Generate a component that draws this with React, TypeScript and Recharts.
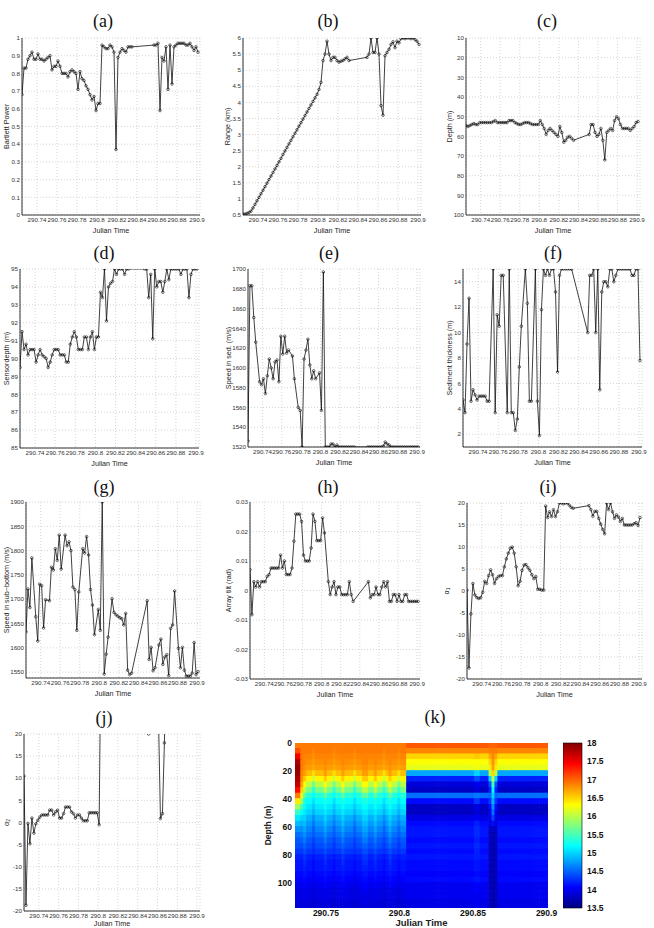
import React from 'react';
import { LineChart, Line, BarChart, Bar, Cell, XAxis, YAxis, CartesianGrid } from 'recharts';

// Julian day of each estimate (shared by panels a-j)
const julianTime = [
  290.725, 290.727, 290.729, 290.731, 290.733, 290.735, 290.737, 290.739, 290.741, 290.743,
  290.745, 290.747, 290.749, 290.751, 290.753, 290.755, 290.757, 290.759, 290.761, 290.763,
  290.765, 290.767, 290.769, 290.771, 290.773, 290.775, 290.777, 290.779, 290.781, 290.783,
  290.785, 290.787, 290.789, 290.791, 290.793, 290.795, 290.797, 290.799, 290.801, 290.803,
  290.805, 290.807, 290.809, 290.811, 290.813, 290.815, 290.817, 290.819, 290.821, 290.823,
  290.825, 290.827, 290.829, 290.831, 290.833, 290.835,
  290.849, 290.851, 290.853, 290.855, 290.857, 290.859, 290.861, 290.863, 290.865, 290.867,
  290.869, 290.871, 290.873, 290.875, 290.877, 290.879, 290.881, 290.883, 290.885, 290.887,
  290.889, 290.891, 290.893, 290.895, 290.897, 290.899, 290.901,
];

const bartlettPower = [
  0.68, 0.83, 0.83, 0.88, 0.90, 0.92, 0.88, 0.88, 0.91, 0.88,
  0.88, 0.87, 0.88, 0.89, 0.90, 0.82, 0.84, 0.84, 0.87, 0.84,
  0.80, 0.80, 0.80, 0.78, 0.81, 0.82, 0.81, 0.80, 0.71, 0.81,
  0.77, 0.76, 0.73, 0.71, 0.68, 0.65, 0.67, 0.59, 0.63, 0.63,
  0.96, 0.95, 0.94, 0.94, 0.96, 0.95, 0.92, 0.37, 0.89, 0.92,
  0.94, 0.93, 0.92, 0.95, 0.95, 0.95,
  null, null, null, null, 0.96, 0.96, 0.97, 0.59, 0.89, 0.87,
  0.95, 0.71, 0.96, 0.74, 0.95, 0.96, 0.97, 0.97, 0.97, 0.97,
  0.96, 0.96, 0.97, 0.95, 0.93, 0.95, 0.92,
];

const rangeKm = [
  0.52, 0.53, 0.55, 0.58, 0.62, 0.72, 0.83, 0.94, 1.05, 1.16,
  1.27, 1.38, 1.49, 1.6, 1.71, 1.82, 1.93, 2.04, 2.15, 2.26,
  2.38, 2.49, 2.6, 2.71, 2.82, 2.93, 3.04, 3.15, 3.26, 3.37,
  3.48, 3.59, 3.7, 3.81, 3.92, 4.03, 4.14, 4.25, 4.4, 4.62,
  5.3, 5.5, 5.9, 5.5, 5.3, 5.4, 5.4, 5.3, 5.25, 5.28,
  5.3, 5.35, 5.4, 5.3, null, null,
  5.4, 5.5, 6.0, 5.55, 5.55, 6.0, 5.5, 3.9, 3.6, 5.45,
  5.55, 5.65, 5.8, 5.88, 5.7, 5.9, 5.85, 5.98, 6.0, 5.98,
  6.0, 6.0, 5.98, 6.0, 5.95, 5.9, 5.8,
];

const sourceDepth = [
  54.5, 55, 54.5, 54, 53.5, 54, 54, 53, 53, 53,
  53, 53, 53, 53, 52.5, 52, 53, 53, 53, 53,
  53, 53, 52, 52, 52, 53, 53.5, 54, 54, 53.5,
  53, 53, 53, 53.5, 54, 54, 54, 54, 52, 54,
  56, 59, 57, 56, 57, 58, 59, 60, 55, 58,
  63, 62, 60.5, 60, 61, 62,
  null, 59, 54, 54, 58, 60, 59, 56, 62, 72,
  58, 57, 56, 57, 52, 50, 51, 54, 56, 56,
  56, 56, 57, 56, 55, 53, 52.5,
];

const sensorDepth = [
  89.5, 91.5, 90.5, 90.8, 90.2, 90.5, 90.5, 90.5, 89.8, 90.2,
  90.5, 90.2, 90.1, 90, 89.5, 89.8, 90.2, 90.5, 90.5, 90.5,
  90.2, 90.2, 90.2, 89.8, 89.8, 90.8, 91.2, 91.5, 91.2, 90.5,
  90.5, 90.5, 91.2, 91.2, 90.5, 91.2, 91.5, 90.5, 91.2, 91.2,
  93.7, 93.4, 95, 92.1, 94, 94.2, 94.3, 95, 94.7, 95,
  95, 95, 94.7, 95, 95, null,
  95, 95, 93.4, 94.7, 91.1, 95, 94, 94.3, 94.3, 93.7,
  94.3, 95, 94.4, 95, 95, 95, 95, 95, 94.7, 95,
  95, 95, 93.4, 94.7, 95, 95, 95,
];

const sedimentSpeed = [
  1526, 1683, 1683, 1651, 1626, null, 1586, 1583, 1589, 1574,
  1592, 1609, 1600, 1589, 1606, 1608, 1586, 1632, 1614, 1632,
  1615, 1618, null, 1612, 1589, null, 1560, 1557, 1520, 1609,
  1618, 1629, 1603, 1589, 1597, 1589, null, 1595, 1557, 1697,
  1520, 1520, 1520, 1523, 1523, 1520, 1522, 1520, 1520, 1520,
  1520, 1520, 1520, 1520, 1520, 1520,
  1520, 1520, 1520, 1520, 1520, 1520, 1520, 1520, 1521, 1525,
  1523, 1522, 1520, 1520, 1520, 1520, 1520, 1520, 1520, 1520,
  1520, 1520, 1520, 1520, 1520, 1520, 1520,
];

const sedimentThickness = [
  4.7, 3.7, 9.1, 12.7, 4.6, 5.5, 5.1, 4.7, 5.0, 5.0,
  5.0, 5.0, 4.6, 4.6, null, 15, 3.7, 11.4, 10.5, 14.5,
  14.5, null, 3.7, 15, 3.7, 3.7, 2.3, 3.2, 7.3, 10.5,
  null, 15, 12.3, 4.6, 4.6, null, 15, 4.6, 1.9, 11.8,
  15, 14.5, 15, 14.5, 15, 15, 13.2, 6.9, 14.5, 15,
  15, 15, 15, 15, 15, null,
  10, 14.5, 14.5, 15, 10, 15, 5.5, 13.2, 14, 14,
  13.6, 15, 15, 14, 14.5, 15, 15, 15, 15, 15,
  15, 15, 14.5, 14.5, 15, 15, 7.8,
];

const subBottomSpeed = [
  1633, 1721, 1683, 1785, null, 1664, 1614, 1731, 1728, 1641,
  1699, null, 1697, 1766, 1760, 1804, 1780, 1832, 1762, null,
  1832, 1810, 1818, 1800, 1725, 1720, 1636, 1715, null, 1804,
  1795, 1829, 1791, 1720, 1688, 1627, null, 1679, 1636, 1900,
  1546, 1587, 1622, null, 1701, 1673, 1668, 1665, 1662, 1660,
  1647, 1671, 1554, 1545, 1548, null,
  1697, 1576, 1601, 1553, 1559, null, 1606, 1618, 1566, 1581,
  1586, 1543, 1640, 1647, 1717, null, 1599, 1559, 1601, 1554,
  1542, 1542, 1542, 1548, 1611, 1545, 1551,
];

const arrayTilt = [
  0.0071, -0.0082, 0.003, 0.0012, 0.003, 0.0012, 0.003, 0.003, 0.003, 0.0048,
  0.0054, 0.0076, 0.0076, 0.0076, 0.0076, 0.0076, 0.012, 0.0076, 0.010, 0.0054,
  0.0054, 0.0054, 0.0076, 0.0167, 0.0259, 0.0259, 0.0259, 0.0234, 0.012, 0.010,
  0.010, 0.010, 0.0144, 0.0259, 0.0234, 0.0169, 0.0169, 0.0169, 0.0246, 0.0195,
  null, 0.003, -0.0014, 0.0012, 0.003, -0.0014, 0.0012, 0.0012, -0.0014, -0.0014,
  -0.0014, -0.0014, 0.003, -0.0014, -0.0037, null,
  0.003, -0.0025, -0.0014, -0.0014, 0.0012, -0.0014, -0.0014, 0.0012, 0.003, 0.0012,
  0.003, -0.0037, -0.0037, -0.0014, -0.0014, -0.0037, -0.0014, -0.0037, -0.0037, -0.0014,
  -0.0014, -0.0037, -0.0037, -0.0037, -0.0037, -0.0037, -0.0037,
];

const alpha1 = [
  0.2, -17.5, -5.2, 1.7, -0.9, -1.5, -1.7, -1.5, -0.3, 2.2,
  1.7, 3.5, 4.8, 3.7, 1.7, 2.8, 3.3, 3.5, 3.5, 5.5,
  7.3, 8.6, 9.7, 10, 8.6, 5.5, 1.2, 2.2, 4.7, 5.9,
  6, 5.3, 4.7, 3.7, 2.8, 3.3, 0.4, 0.4, 0.2, 0.2,
  19.3, 16.7, 18, 16.9, 18.5, 16.9, 18, 20, 20, 19.8,
  20, 20, 19.5, 19, 18.8, null,
  19.4, 18.5, 17, 18.1, 18.1, 16.5, 15.2, 14, 13, 20,
  18.5, 20, 18, 16.5, 17.3, 16.8, 15.8, 16.5, 15, 15,
  15, 15, 15, 15.3, 15.5, 14.9, 16.7,
];

// values above 20 leave the plotted range and are clipped
const alpha2 = [
  10.5, -18.7, -0.2, -4.8, 1.0, -2.4, -0.3, 0.5, 1.2, 1.7,
  1.7, 1.7, 1.7, 2.8, 2.8, 1.7, 2.4, 2.8, 1.0, 1.0,
  2.0, 3.5, 3.5, 3.5, 2.4, 2.0, 1.0, 1.7, 1.7, 1.0,
  0.4, 0.4, 0.4, 2.2, 2.2, 2.2, 2.2, 2.2, -0.5, 45,
  null, null, null, null, null, null, null, null, null, null,
  null, null, null, null, null, null,
  null, 20, null, null, null, null, 24, 0.9, 2.0, 18,
  40, null, null, null, null, null, null, null, null, null,
  null, null, null, null, null, null, null,
];

const timeTicks = [290.74, 290.76, 290.78, 290.8, 290.82, 290.84, 290.86, 290.88, 290.9];
const powerTicks = [0, 0.1, 0.2, 0.3, 0.4, 0.5, 0.6, 0.7, 0.8, 0.9, 1];
const rangeTicks = [0.5, 1, 1.5, 2, 2.5, 3, 3.5, 4, 4.5, 5, 5.5, 6];
const depthTicks = [10, 20, 30, 40, 50, 60, 70, 80, 90, 100];
const sensorTicks = [85, 86, 87, 88, 89, 90, 91, 92, 93, 94, 95];
const sedSpeedTicks = [1520, 1540, 1560, 1580, 1600, 1620, 1640, 1660, 1680, 1700];
const thicknessTicks = [2, 4, 6, 8, 10, 12, 14];
const subSpeedTicks = [1550, 1600, 1650, 1700, 1750, 1800, 1850, 1900];
const tiltTicks = [-0.03, -0.02, -0.01, 0, 0.01, 0.02, 0.03];
const alphaTicks = [-20, -15, -10, -5, 0, 5, 10, 15, 20];

// temperature section (k): column centre times, 4 m layers, one profile letter per column
const sectionTimes = [
  290.730, 290.732, 290.734, 290.736, 290.738, 290.740, 290.742, 290.744, 290.746, 290.748,
  290.750, 290.752, 290.754, 290.756, 290.758, 290.760, 290.762, 290.764, 290.766, 290.768,
  290.770, 290.772, 290.774, 290.776, 290.778, 290.780, 290.782, 290.784, 290.786, 290.788,
  290.790, 290.792, 290.794, 290.796, 290.798, 290.800, 290.802, 290.804, 290.806, 290.808,
  290.810, 290.812, 290.814, 290.816, 290.818, 290.820, 290.822, 290.824, 290.826, 290.828,
  290.830, 290.832, 290.834, 290.836, 290.838, 290.840, 290.842, 290.844, 290.846, 290.848,
  290.850, 290.852, 290.854, 290.856, 290.858, 290.860, 290.862, 290.864, 290.866, 290.868,
  290.870, 290.872, 290.874, 290.876, 290.878, 290.880, 290.882, 290.884, 290.886, 290.888,
  290.890, 290.892, 290.894, 290.896, 290.898, 290.900,
];
const sectionColumns =
  'SSTFEEGEEE' + 'FEEGEEFEEE' + 'GEEFFEEFEE' + 'GEFEEGEE' +
  'LLLLLLLLLLLLLLLLLLLLLLL' + 'MM' + 'LLL' + 'CDC' + 'LLLLLLLLLLLLLLLLL';
const sectionLayerEdges = [
  0, 4, 8, 12, 16, 20, 24, 28, 32, 36, 40, 44, 48, 52, 56, 60,
  64, 68, 72, 76, 80, 84, 88, 92, 96, 100, 104, 108, 112, 116, 120,
];
const sectionProfiles: Record<string, number[]> = {
  S: [16.9, 17.1, 17.5, 17.8, 17.9, 17.9, 17.8, 17.7, 17.4, 16.9, 16.4, 15.9, 15.4, 15.1, 14.9, 14.7, 14.55, 14.45, 14.4, 14.3, 14.2, 14.15, 14.15, 14.1, 14.05, 14.0, 13.95, 13.95, 13.9, 13.9],
  T: [16.9, 16.9, 16.9, 16.9, 16.9, 16.85, 16.8, 16.7, 16.5, 16.2, 15.9, 15.5, 15.2, 15.0, 14.85, 14.7, 14.6, 14.5, 14.4, 14.3, 14.2, 14.15, 14.15, 14.1, 14.05, 14.0, 13.95, 13.95, 13.9, 13.9],
  E: [16.9, 16.9, 16.85, 16.8, 16.75, 16.6, 16.35, 16.0, 15.7, 15.35, 15.2, 15.1, 15.0, 14.85, 14.75, 14.65, 14.55, 14.45, 14.4, 14.3, 14.2, 14.15, 14.15, 14.1, 14.05, 14.0, 13.95, 13.95, 13.9, 13.9],
  F: [16.9, 16.9, 16.85, 16.85, 16.8, 16.75, 16.55, 16.3, 16.0, 15.6, 15.3, 15.2, 15.1, 15.0, 14.9, 14.8, 14.7, 14.6, 14.5, 14.4, 14.3, 14.25, 14.2, 14.15, 14.1, 14.05, 14.0, 13.95, 13.95, 13.9],
  G: [16.9, 16.85, 16.8, 16.75, 16.7, 16.45, 16.1, 15.7, 15.4, 15.2, 15.05, 14.95, 14.85, 14.7, 14.6, 14.5, 14.45, 14.35, 14.3, 14.25, 14.15, 14.1, 14.1, 14.05, 14.0, 13.95, 13.9, 13.9, 13.85, 13.85],
  L: [17.05, 16.85, 16.5, 16.3, 16.2, 14.8, 14.2, 13.9, 13.8, 14.55, 14.1, 13.8, 13.8, 13.95, 14.1, 14.15, 14.15, 14.1, 14.15, 14.1, 14.15, 14.1, 14.1, 14.05, 14.1, 14.0, 14.0, 14.0, 13.95, 13.95],
  M: [17.05, 16.85, 16.55, 16.3, 16.25, 15.0, 14.4, 14.0, 13.9, 14.6, 14.3, 13.95, 13.9, 14.0, 14.2, 14.25, 14.25, 14.2, 14.25, 14.2, 14.2, 14.15, 14.15, 14.1, 14.15, 14.05, 14.05, 14.0, 14.0, 14.0],
  C: [17.0, 16.9, 16.7, 16.5, 16.4, 16.0, 15.0, 14.4, 14.2, 14.5, 14.3, 14.1, 14.0, 13.95, 13.9, 13.8, 13.75, 13.75, 13.75, 13.75, 13.75, 13.75, 13.75, 13.75, 13.75, 13.75, 13.75, 13.75, 13.75, 13.75],
  D: [17.0, 16.9, 16.85, 16.8, 16.75, 16.5, 16.0, 15.5, 15.2, 15.0, 14.85, 14.7, 14.55, 14.35, 14.1, 13.8, 13.7, 13.7, 13.7, 13.7, 13.7, 13.7, 13.7, 13.7, 13.7, 13.7, 13.7, 13.7, 13.7, 13.7],
};
const sectionTicks = [290.75, 290.8, 290.85, 290.9];
const sectionDepthTicks = [0, 20, 40, 60, 80, 100];
const colorbarTicks = [13.5, 14, 14.5, 15, 15.5, 16, 16.5, 17, 17.5, 18];

const TEMP_MIN = 13.5;
const TEMP_MAX = 18;

const sans = '"Liberation Sans", Arial, Helvetica, sans-serif';
const serif = '"Liberation Serif", "DejaVu Serif", serif';

const fmtTick = (v: number) => String(Number(v.toFixed(4)));

// matlab "jet" colormap
const jet = (temp: number) => {
  const v = Math.min(1, Math.max(0, (temp - TEMP_MIN) / (TEMP_MAX - TEMP_MIN)));
  const ch = (c: number) => Math.round(255 * Math.min(1, Math.max(0, 1.5 - Math.abs(4 * v - c))));
  return `rgb(${ch(3)},${ch(2)},${ch(1)})`;
};

const VerticalTitle = (props: any) => {
  const { px, py, caption, size = 7.2, weight = 'normal' } = props;
  return (
    <text x={px} y={py} transform={`rotate(-90 ${px} ${py})`} textAnchor="middle" dominantBaseline="central"
      fontSize={size} fontWeight={weight} fill="#222" fontFamily={sans}>
      {caption}
    </text>
  );
};

const HorizontalTitle = (props: any) => {
  const { px, py, caption, size = 7.2, weight = 'normal' } = props;
  return (
    <text x={px} y={py} textAnchor="middle" dominantBaseline="central" fontSize={size} fontWeight={weight}
      fill="#222" fontFamily={sans}>
      {caption}
    </text>
  );
};

type PanelSpec = {
  id: string;
  values: (number | null)[];
  domain: [number, number];
  ticks: number[];
  reversed?: boolean;
  ylabel: React.ReactNode;
  col: number;
  x: number;
  y: number;
  w: number;
  h: number;
  labelX: number;
  xlabelDy?: number;
  titleX: number;
  titleY: number;
};

const alphaLabel = (n: string) => (
  <>
    α<tspan dy={2} fontSize={5}>{n}</tspan>
  </>
);

const panels: PanelSpec[] = [
  { id: 'a', values: bartlettPower, domain: [0, 1], ticks: powerTicks, ylabel: 'Bartlett Power', col: 0, x: 22, y: 38, w: 178, h: 177, labelX: 6, titleX: 103, titleY: 21 },
  { id: 'b', values: rangeKm, domain: [0.5, 6], ticks: rangeTicks, ylabel: 'Range (km)', col: 218, x: 243, y: 38, w: 178, h: 177, labelX: 227, titleX: 328, titleY: 21 },
  { id: 'c', values: sourceDepth, domain: [10, 100], ticks: depthTicks, reversed: true, ylabel: 'Depth (m)', col: 436, x: 466, y: 38, w: 174, h: 177, labelX: 449, titleX: 547, titleY: 21 },
  { id: 'd', values: sensorDepth, domain: [85, 95], ticks: sensorTicks, ylabel: 'Sensordepth (m)', col: 0, x: 20, y: 269, w: 179, h: 179, labelX: 6, titleX: 104, titleY: 253 },
  { id: 'e', values: sedimentSpeed, domain: [1520, 1700], ticks: sedSpeedTicks, ylabel: 'Speed in sed. (m/s)', col: 218, x: 248, y: 269, w: 172, h: 178, labelX: 228, titleX: 329, titleY: 253 },
  { id: 'f', values: sedimentThickness, domain: [1, 15], ticks: thicknessTicks, ylabel: 'Sediment thickness (m)', col: 436, x: 463, y: 269, w: 179, h: 178, labelX: 449, titleX: 553, titleY: 253 },
  { id: 'g', values: subBottomSpeed, domain: [1538, 1900], ticks: subSpeedTicks, ylabel: 'Speed in sub\u2212bottom (m/s)', col: 0, x: 26, y: 502, w: 174, h: 176, labelX: 6, titleX: 104, titleY: 487 },
  { id: 'h', values: arrayTilt, domain: [-0.03, 0.03], ticks: tiltTicks, ylabel: 'Array tilt (rad)', col: 218, x: 250, y: 502, w: 170, h: 177, labelX: 228, titleX: 328, titleY: 487 },
  { id: 'i', values: alpha1, domain: [-20, 20], ticks: alphaTicks, ylabel: alphaLabel('1'), col: 436, x: 467, y: 503, w: 175, h: 176, labelX: 446, titleX: 548, titleY: 487 },
  { id: 'j', values: alpha2, domain: [-20, 20], ticks: alphaTicks, ylabel: alphaLabel('2'), col: 0, x: 24, y: 734, w: 176, h: 177, labelX: 6, xlabelDy: 12.5, titleX: 104, titleY: 718 },
];

const TIME_DOMAIN: [number, number] = [290.725, 290.903];
const tickStyle = { fontSize: 6.2, fill: '#333', fontFamily: sans };

const SeriesPanel = ({ spec }: { spec: PanelSpec }) => {
  const data = julianTime.map((t, i) => ({ t, v: spec.values[i] }));
  const axisW = spec.x - spec.col;
  const top = 4;
  const right = 12;
  return (
    <div style={{ position: 'absolute', left: spec.col, top: spec.y - top }}>
      <LineChart width={axisW + spec.w + right} height={top + spec.h + 30} data={data}
        margin={{ top, right, bottom: 0, left: 0 }}>
        <CartesianGrid stroke="#b8b8b8" strokeDasharray="1 2" strokeWidth={0.6} />
        <XAxis dataKey="t" type="number" domain={TIME_DOMAIN} allowDataOverflow ticks={timeTicks} interval={0}
          tickFormatter={fmtTick} tick={tickStyle} tickSize={0} tickMargin={3} height={30}
          axisLine={{ stroke: '#000', strokeWidth: 0.8 }}
          label={<HorizontalTitle px={axisW + spec.w / 2} py={top + spec.h + (spec.xlabelDy ?? 15)} caption="Julian Time" />} />
        <YAxis type="number" domain={spec.domain} allowDataOverflow reversed={spec.reversed} ticks={spec.ticks}
          interval={0} tickFormatter={fmtTick} tick={tickStyle} tickSize={0} tickMargin={2} width={axisW}
          axisLine={{ stroke: '#000', strokeWidth: 0.8 }}
          label={<VerticalTitle px={spec.labelX - spec.col} py={top + spec.h / 2} caption={spec.ylabel} />} />
        <XAxis xAxisId="top" orientation="top" type="number" domain={TIME_DOMAIN} allowDataOverflow height={0}
          tick={false} tickLine={false} axisLine={{ stroke: '#000', strokeWidth: 0.8 }} />
        <YAxis yAxisId="right" orientation="right" type="number" domain={spec.domain} allowDataOverflow width={0}
          tick={false} tickLine={false} axisLine={{ stroke: '#000', strokeWidth: 0.8 }} />
        <Line type="linear" dataKey="v" stroke="#111" strokeWidth={0.8} connectNulls
          dot={{ r: 1.3, stroke: '#111', strokeWidth: 0.6, fill: 'none' }} isAnimationActive={false} />
      </LineChart>
    </div>
  );
};

const TemperatureSection = () => {
  const layers = sectionLayerEdges.slice(0, -1).map((_, n) => n);
  const rows = sectionTimes.map((t, col) => {
    const row: Record<string, number | string> = { t, code: sectionColumns[col] };
    layers.forEach((n) => {
      row[`L${n}`] = sectionLayerEdges[n + 1] - sectionLayerEdges[n];
    });
    return row;
  });
  const plot = { x: 295, y: 743, w: 253, h: 165 };
  const left = 255;
  const pad = 6;
  const right = 14;
  const axisW = plot.x - left;
  const cellW = plot.w / sectionTimes.length + 0.6;
  const boldTick = { fontSize: 8.5, fill: '#111', fontFamily: sans, fontWeight: 'bold' };
  return (
    <div style={{ position: 'absolute', left, top: plot.y - pad }}>
      <BarChart width={axisW + plot.w + right} height={pad + plot.h + 24} data={rows}
        margin={{ top: pad, right, bottom: 0, left: 0 }}>
        <XAxis dataKey="t" type="number" domain={[290.729, 290.901]} allowDataOverflow ticks={sectionTicks}
          interval={0} tickFormatter={fmtTick} tick={boldTick} tickSize={0} tickMargin={2} height={24}
          axisLine={false}
          label={<HorizontalTitle px={axisW + plot.w / 2} py={pad + plot.h + 14} caption="Julian Time" size={9.5} weight="bold" />} />
        <YAxis type="number" domain={[0, 118]} reversed allowDataOverflow ticks={sectionDepthTicks} interval={0}
          tickFormatter={fmtTick} tick={boldTick} tickSize={0} tickMargin={3} width={axisW} axisLine={false}
          label={<VerticalTitle px={13} py={pad + plot.h / 2} caption="Depth (m)" size={8.5} weight="bold" />} />
        {layers.map((n) => (
          <Bar key={n} dataKey={`L${n}`} stackId="temp" barSize={cellW} isAnimationActive={false}>
            {rows.map((r, j) => {
              const c = jet(sectionProfiles[r.code as string][n]);
              return <Cell key={j} fill={c} stroke={c} strokeWidth={1.2} />;
            })}
          </Bar>
        ))}
      </BarChart>
    </div>
  );
};

const Colorbar = () => {
  const plot = { x: 563, y: 743, w: 19, h: 165 };
  const pad = 6;
  const stops = [0, 0.125, 0.375, 0.625, 0.875, 1];
  return (
    <div style={{ position: 'absolute', left: plot.x, top: plot.y - pad }}>
      <BarChart width={plot.w + 40} height={plot.h + 2 * pad} data={[{ name: 'temp', span: [TEMP_MIN, TEMP_MAX] }]}
        margin={{ top: pad, right: 0, bottom: pad, left: 0 }} barCategoryGap={0}>
        <defs>
          <linearGradient id="jetScale" x1="0" y1="1" x2="0" y2="0">
            {stops.map((s) => (
              <stop key={s} offset={s} stopColor={jet(TEMP_MIN + s * (TEMP_MAX - TEMP_MIN))} />
            ))}
          </linearGradient>
        </defs>
        <XAxis dataKey="name" hide />
        <YAxis orientation="right" type="number" domain={[TEMP_MIN, TEMP_MAX]} ticks={colorbarTicks} interval={0}
          tickFormatter={fmtTick} tick={{ fontSize: 8.5, fill: '#111', fontFamily: sans, fontWeight: 'bold' }}
          tickSize={0} tickMargin={5} width={40} axisLine={false} />
        <Bar dataKey="span" fill="url(#jetScale)" stroke="#000" strokeWidth={0.6} isAnimationActive={false} />
      </BarChart>
    </div>
  );
};

const Title = ({ text, x, y }: { text: string; x: number; y: number }) => (
  <div style={{
    position: 'absolute', left: x, top: y, transform: 'translate(-50%, -50%)',
    fontFamily: serif, fontSize: 18, lineHeight: 1, color: '#111', whiteSpace: 'nowrap',
  }}>
    {text}
  </div>
);

export default function App() {
  return (
    <div style={{ position: 'absolute', left: 0, top: 0, width: 654, height: 928, overflow: 'hidden', background: '#fff' }}>
      {panels.map((p) => (
        <React.Fragment key={p.id}>
          <Title text={`(${p.id})`} x={p.titleX} y={p.titleY} />
          <SeriesPanel spec={p} />
        </React.Fragment>
      ))}
      <Title text="(k)" x={435} y={717} />
      <TemperatureSection />
      <Colorbar />
    </div>
  );
}
